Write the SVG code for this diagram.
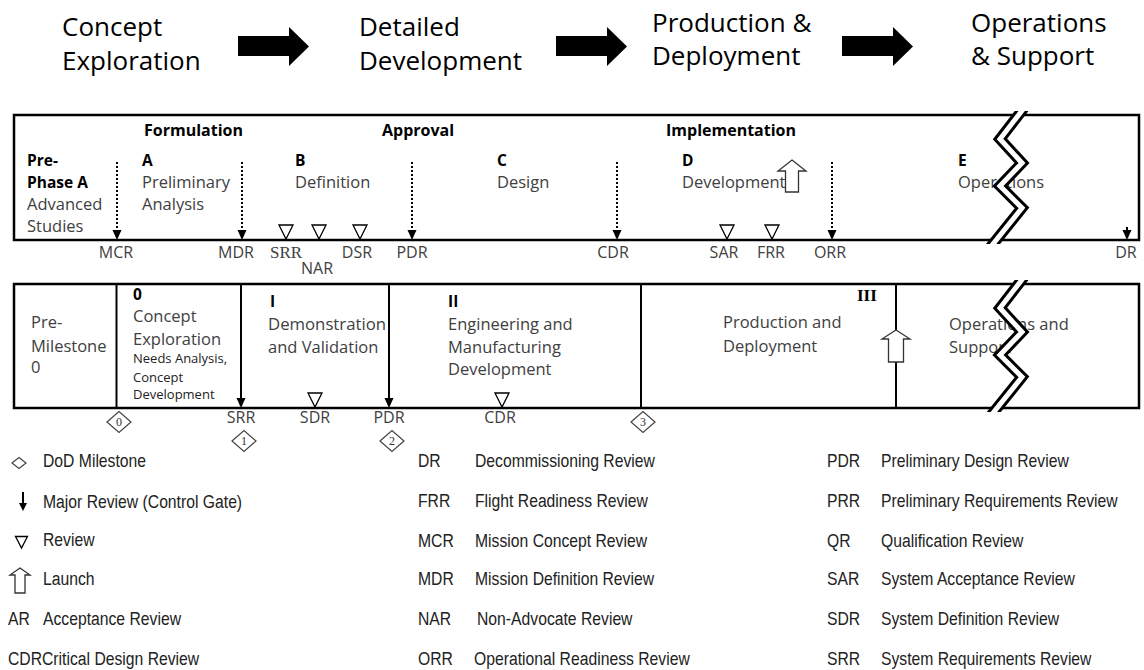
<svg xmlns="http://www.w3.org/2000/svg" width="1144" height="670" viewBox="0 0 1144 670">
<style>
text{font-family:"Open Sans","Liberation Sans",sans-serif;}
.h{font-size:26px;fill:#000}
.b{font-size:16.5px;fill:#404040}
.bb{font-size:15.5px;font-weight:700;fill:#000}
.ph{font-size:16px;font-weight:700;fill:#000}
.lab{font-size:16px;fill:#404040;text-anchor:middle}
.sm{font-size:13px;fill:#222}
.lg{font-family:"Liberation Sans",Arial,sans-serif;font-size:18.5px;fill:#222}
.frame{fill:none;stroke:#000;stroke-width:2.5}
.div{stroke:#000;stroke-width:2}
.dot{stroke:#000;stroke-width:2;stroke-dasharray:2 2}
.sol{stroke:#000;stroke-width:2}
.rev{fill:#fff;stroke:#000;stroke-width:1.3}
.dia{fill:#fff;stroke:#444;stroke-width:1.2}
.num{font-family:"Liberation Serif",serif;font-size:12px;fill:#333;text-anchor:middle}
.launch{fill:#fff;stroke:#333;stroke-width:1.3}
.zz1{fill:none;stroke:#000;stroke-width:11;stroke-linejoin:miter}
.zz2{fill:none;stroke:#fff;stroke-width:5;stroke-linejoin:miter}
</style>
<defs>
<path id="hd" d="M-4.5,-10 L4.5,-10 L0,0 Z"/>
<path id="tri" d="M-7,-14 L7,-14 L0,0 Z"/>
<path id="dm" d="M-12,0 L0,-10.5 L12,0 L0,10.5 Z"/>
<polyline id="zz" points="1024,108 1000,139 1022,163 1000,186 1022,208 989,249"/>
<clipPath id="c1"><rect x="0" y="111" width="1144" height="133"/></clipPath>
<clipPath id="c2"><rect x="0" y="280" width="1144" height="132"/></clipPath>
</defs>
<rect width="1144" height="670" fill="#fff"/>

<g id="header">
<text class="h" x="62" y="36">Concept</text>
<text class="h" x="62" y="70">Exploration</text>
<text class="h" x="359" y="36">Detailed</text>
<text class="h" x="359" y="70">Development</text>
<text class="h" x="652" y="32">Production &amp;</text>
<text class="h" x="652" y="65">Deployment</text>
<text class="h" x="971" y="32">Operations</text>
<text class="h" x="971" y="65">&amp; Support</text>
<path d="M238,36 H289 V27 L309,46.5 L289,66 V56 H238 Z" fill="#000"/>
<path d="M556,36 H607 V27 L627,46.5 L607,66 V56 H556 Z" fill="#000"/>
<path d="M842,36 H893 V27 L913,46.5 L893,66 V56 H842 Z" fill="#000"/>
</g>

<g id="nasa-phases">
<rect class="frame" x="14" y="115" width="1125" height="125"/>
<text class="ph" x="144" y="136">Formulation</text>
<text class="ph" x="382" y="136">Approval</text>
<text class="ph" x="666" y="136">Implementation</text>
<text class="bb" x="27" y="166">Pre-</text>
<text class="bb" x="27" y="188">Phase A</text>
<text class="b" x="27" y="210">Advanced</text>
<text class="b" x="27" y="232">Studies</text>
<text class="bb" x="142" y="166">A</text>
<text class="b" x="142" y="188">Preliminary</text>
<text class="b" x="142" y="210">Analysis</text>
<text class="bb" x="295" y="166">B</text>
<text class="b" x="295" y="188">Definition</text>
<text class="bb" x="497" y="166">C</text>
<text class="b" x="497" y="188">Design</text>
<text class="bb" x="682" y="166">D</text>
<text class="b" x="682" y="188">Development</text>
<text class="bb" x="958" y="166">E</text>
<text class="b" x="958" y="188">Operations</text>
<path class="launch" d="M792,160 L806,171 L798.5,171 L798.5,192 L785.5,192 L785.5,171 L778,171 Z"/>
<g clip-path="url(#c1)">
<use href="#zz" class="zz1"/>
<use href="#zz" class="zz2"/>
</g>
</g>

<g id="dod-phases">
<rect class="frame" x="14" y="284" width="1125" height="124"/>
<line class="div" x1="116.5" y1="284" x2="116.5" y2="408"/>
<line class="div" x1="641" y1="284" x2="641" y2="408"/>
<line class="div" x1="896" y1="284" x2="896" y2="408"/>
<text class="b" x="31" y="328">Pre-</text>
<text class="b" x="31" y="352">Milestone</text>
<text class="b" x="31" y="373">0</text>
<text class="bb" x="133" y="300">0</text>
<text class="b" x="133" y="322">Concept</text>
<text class="b" x="133" y="345">Exploration</text>
<text class="sm" x="133" y="363">Needs Analysis,</text>
<text class="sm" x="133" y="382">Concept</text>
<text class="sm" x="133" y="399">Development</text>
<text class="bb" x="270" y="307">I</text>
<text class="b" x="268" y="330" textLength="118" lengthAdjust="spacingAndGlyphs">Demonstration</text>
<text class="b" x="268" y="353">and Validation</text>
<text class="bb" x="448" y="307">II</text>
<text class="b" x="448" y="330">Engineering and</text>
<text class="b" x="448" y="353">Manufacturing</text>
<text class="b" x="448" y="375">Development</text>
<text class="b" x="723" y="328">Production and</text>
<text class="b" x="723" y="352">Deployment</text>
<text x="857" y="301" style="font-family:'Liberation Serif',serif;font-size:17px;font-weight:700;fill:#000">III</text>
<text class="b" x="949" y="330">Operations and</text>
<text class="b" x="949" y="353">Support</text>
<path class="launch" d="M896,330 L910,339 L903.5,339 L903.5,362 L888.5,362 L888.5,339 L882,339 Z"/>
<g clip-path="url(#c2)">
<g transform="translate(0,169)">
<use href="#zz" class="zz1"/>
<use href="#zz" class="zz2"/>
</g>
</g>
</g>

<g id="connectors">
<line class="dot" x1="117" y1="162" x2="117" y2="230"/><use href="#hd" x="117" y="240"/>
<line class="dot" x1="242" y1="162" x2="242" y2="230"/><use href="#hd" x="242" y="240"/>
<line class="dot" x1="412" y1="162" x2="412" y2="230"/><use href="#hd" x="412" y="240"/>
<line class="dot" x1="617" y1="162" x2="617" y2="230"/><use href="#hd" x="617" y="240"/>
<line class="dot" x1="832" y1="162" x2="832" y2="230"/><use href="#hd" x="832" y="240"/>
<line class="sol" x1="1127" y1="227" x2="1127" y2="231"/><use href="#hd" x="1127" y="240"/>
<line class="sol" x1="241" y1="284" x2="241" y2="399"/><use href="#hd" x="241" y="408"/>
<line class="sol" x1="389" y1="284" x2="389" y2="399"/><use href="#hd" x="389" y="408"/>
</g>

<g id="reviews">
<use href="#tri" class="rev" x="286" y="239"/>
<use href="#tri" class="rev" x="319" y="239"/>
<use href="#tri" class="rev" x="360" y="239"/>
<use href="#tri" class="rev" x="727" y="239"/>
<use href="#tri" class="rev" x="772" y="239"/>
<use href="#tri" class="rev" x="315" y="407"/>
<use href="#tri" class="rev" x="502" y="407"/>
</g>

<g id="review-labels">
<text class="lab" x="116" y="258">MCR</text>
<text class="lab" x="236" y="258">MDR</text>
<text x="286" y="258" style="font-family:'Liberation Serif',serif;font-size:17px;fill:#404040;text-anchor:middle">SRR</text>
<text class="lab" x="317" y="274">NAR</text>
<text class="lab" x="357" y="258">DSR</text>
<text class="lab" x="412" y="258">PDR</text>
<text class="lab" x="613" y="258">CDR</text>
<text class="lab" x="724" y="258">SAR</text>
<text class="lab" x="771" y="258">FRR</text>
<text class="lab" x="830" y="258">ORR</text>
<text class="lab" x="1126" y="258">DR</text>
<text class="lab" x="241" y="423">SRR</text>
<text class="lab" x="315" y="423">SDR</text>
<text class="lab" x="389" y="423">PDR</text>
<text class="lab" x="500" y="423">CDR</text>
</g>

<g id="milestones">
<use href="#dm" class="dia" x="119" y="422"/><text class="num" x="119" y="426">0</text>
<use href="#dm" class="dia" x="244" y="441"/><text class="num" x="244" y="445">1</text>
<use href="#dm" class="dia" x="392" y="441"/><text class="num" x="392" y="445">2</text>
<use href="#dm" class="dia" x="643" y="422"/><text class="num" x="643" y="426">3</text>
</g>

<g id="legend">
<path class="dia" d="M12,463 L19,457.5 L26,463 L19,468.5 Z"/>
<text class="lg" transform="matrix(.85 0 0 1 43 467)">DoD Milestone</text>
<line class="sol" x1="23" y1="492" x2="23" y2="503"/><path d="M19,503 L27,503 L23,511 Z"/>
<text class="lg" transform="matrix(.85 0 0 1 43 508)">Major Review (Control Gate)</text>
<path class="rev" d="M15.5,536.5 L27.5,536.5 L21.5,548 Z"/>
<text class="lg" transform="matrix(.85 0 0 1 43 546)">Review</text>
<path class="launch" d="M20,568 L30,575 L25,575 L25,593 L15,593 L15,575 L10,575 Z"/>
<text class="lg" transform="matrix(.85 0 0 1 43 585)">Launch</text>
<text class="lg" transform="matrix(.85 0 0 1 8 625)">AR</text>
<text class="lg" transform="matrix(.85 0 0 1 43 625)">Acceptance Review</text>
<text class="lg" transform="matrix(.85 0 0 1 8 665)">CDR</text>
<text class="lg" transform="matrix(.85 0 0 1 42 665)">Critical Design Review</text>

<text class="lg" transform="matrix(.85 0 0 1 418 467)">DR</text>
<text class="lg" transform="matrix(.85 0 0 1 475 467)">Decommissioning Review</text>
<text class="lg" transform="matrix(.85 0 0 1 418 507)">FRR</text>
<text class="lg" transform="matrix(.85 0 0 1 475 507)">Flight Readiness Review</text>
<text class="lg" transform="matrix(.85 0 0 1 418 547)">MCR</text>
<text class="lg" transform="matrix(.85 0 0 1 475 547)">Mission Concept Review</text>
<text class="lg" transform="matrix(.85 0 0 1 418 585)">MDR</text>
<text class="lg" transform="matrix(.85 0 0 1 475 585)">Mission Definition Review</text>
<text class="lg" transform="matrix(.85 0 0 1 418 625)">NAR</text>
<text class="lg" transform="matrix(.85 0 0 1 477 625)">Non-Advocate Review</text>
<text class="lg" transform="matrix(.85 0 0 1 418 665)">ORR</text>
<text class="lg" transform="matrix(.85 0 0 1 474 665)">Operational Readiness Review</text>

<text class="lg" transform="matrix(.85 0 0 1 827 467)">PDR</text>
<text class="lg" transform="matrix(.85 0 0 1 881 467)">Preliminary Design Review</text>
<text class="lg" transform="matrix(.85 0 0 1 827 507)">PRR</text>
<text class="lg" transform="matrix(.85 0 0 1 881 507)">Preliminary Requirements Review</text>
<text class="lg" transform="matrix(.85 0 0 1 827 547)">QR</text>
<text class="lg" transform="matrix(.85 0 0 1 881 547)">Qualification Review</text>
<text class="lg" transform="matrix(.85 0 0 1 827 585)">SAR</text>
<text class="lg" transform="matrix(.85 0 0 1 881 585)">System Acceptance Review</text>
<text class="lg" transform="matrix(.85 0 0 1 827 625)">SDR</text>
<text class="lg" transform="matrix(.85 0 0 1 881 625)">System Definition Review</text>
<text class="lg" transform="matrix(.85 0 0 1 827 665)">SRR</text>
<text class="lg" transform="matrix(.85 0 0 1 881 665)">System Requirements Review</text>
</g>
</svg>
